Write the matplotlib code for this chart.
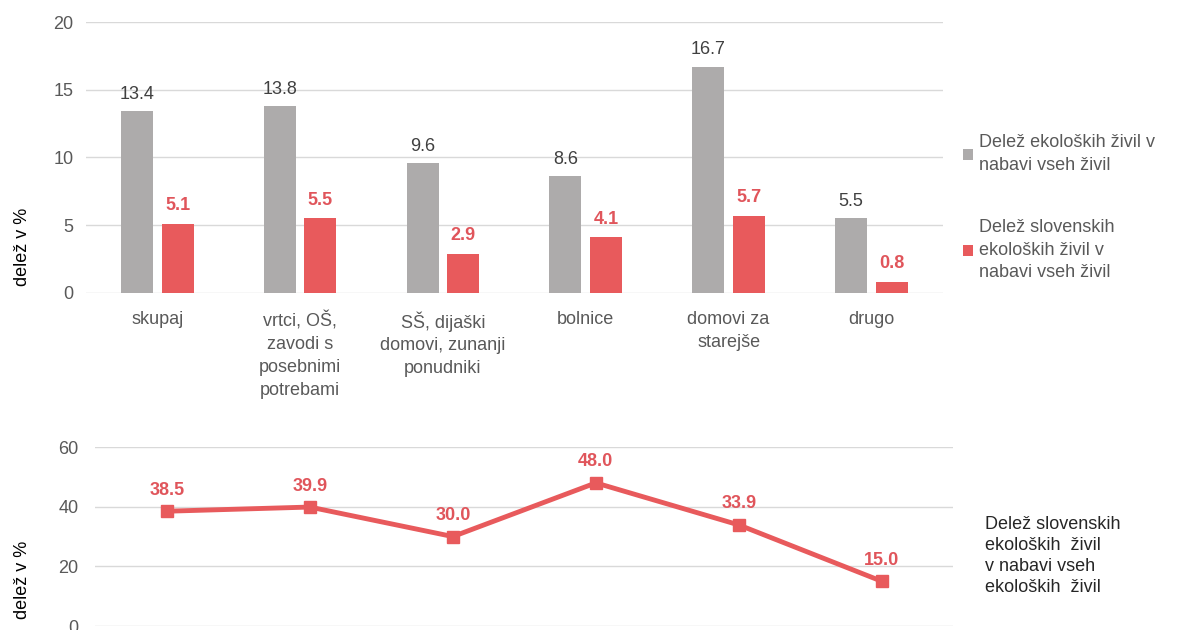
import numpy as np
import matplotlib.pyplot as plt

plt.rcParams['font.family'] = ['Liberation Sans', 'DejaVu Sans']

# data
categories = ["skupaj", "vrtci, OŠ,\nzavodi s\nposebnimi\npotrebami",
              "SŠ, dijaški\ndomovi, zunanji\nponudniki", "bolnice",
              "domovi za\nstarejše", "drugo"]
eko_share = [13.4, 13.8, 9.6, 8.6, 16.7, 5.5]
slo_eko_share = [5.1, 5.5, 2.9, 4.1, 5.7, 0.8]
slo_of_eko = [38.5, 39.9, 30.0, 48.0, 33.9, 15.0]

legend_eko = "Delež ekoloških živil v\nnabavi vseh živil"
legend_slo = "Delež slovenskih\nekoloških živil v\nnabavi vseh živil"
line_label = "Delež slovenskih\nekoloških  živil\nv nabavi vseh\nekoloških  živil"

gray = "#ADABAB"
red = "#E85A5C"
red_txt = "#E0555B"
tick_col = "#595959"
grid_col = "#D9D9D9"

fig = plt.figure(figsize=(11.77, 6.3), dpi=100)

# ---------- top bar chart ----------
ax1 = fig.add_axes([0.073, 0.535, 0.728, 0.430])
x = np.arange(len(categories))
w = 0.224
off = 0.142
ax1.bar(x - off, eko_share, w, color=gray, label=legend_eko, zorder=3)
ax1.bar(x + off, slo_eko_share, w, color=red, label=legend_slo, zorder=3)

for xi, v in zip(x, eko_share):
    ax1.annotate(f"{v:.1f}", (xi - off, v), xytext=(0, 6), textcoords="offset points",
                 ha="center", va="bottom", fontsize=13, color="#404040")
for xi, v in zip(x, slo_eko_share):
    ax1.annotate(f"{v:.1f}", (xi + off, v), xytext=(0, 7), textcoords="offset points",
                 ha="center", va="bottom", fontsize=13, color=red_txt, fontweight="bold")

ax1.set_xlim(-0.5, len(categories) - 0.5)
ax1.set_ylim(0, 20)
ax1.set_yticks([0, 5, 10, 15, 20])
ax1.set_xticks(x)
ax1.set_xticklabels(categories, fontsize=13, color=tick_col, linespacing=1.45)
ax1.tick_params(axis="both", length=0, labelsize=13, labelcolor=tick_col)
ax1.tick_params(axis="x", pad=13)
ax1.tick_params(axis="y", pad=9)
ax1.grid(axis="y", color=grid_col, linewidth=1, zorder=0)
for s in ax1.spines.values():
    s.set_visible(False)
ax1.set_ylabel("delež v %", fontsize=13, color="black")
ax1.yaxis.set_label_coords(-0.064, 0.17)

leg = ax1.legend(loc="upper left", bbox_to_anchor=(1.005, 0.645), frameon=False,
                 fontsize=13, labelcolor=tick_col, handlelength=0.55, handleheight=0.55,
                 handletextpad=0.3, labelspacing=2.5)
for t in leg.get_texts():
    t.set_linespacing(1.42)

# ---------- bottom line chart ----------
ax2 = fig.add_axes([0.081, 0.0063, 0.729, 0.284])
ax2.plot(x, slo_of_eko, color=red, linewidth=3.5, marker="s", markersize=9, zorder=3)
for xi, v in zip(x, slo_of_eko):
    ax2.annotate(f"{v:.1f}", (xi, v), xytext=(0, 9), textcoords="offset points",
                 ha="center", va="bottom", fontsize=13, color=red_txt, fontweight="bold")
ax2.set_xlim(-0.5, len(categories) - 0.5)
ax2.set_ylim(0, 60)
ax2.set_yticks([0, 20, 40, 60])
ax2.set_xticks([])
ax2.tick_params(axis="y", length=0, labelsize=13, labelcolor=tick_col, pad=12)
ax2.grid(axis="y", color=grid_col, linewidth=1, zorder=0)
for s in ax2.spines.values():
    s.set_visible(False)
ax2.set_ylabel("delež v %", fontsize=13, color="black")
ax2.yaxis.set_label_coords(-0.075, 0.26)

fig.text(0.837, 0.117, line_label, fontsize=13, color="#262626", va="center",
         ha="left", linespacing=1.3)

fig.savefig("out.png", dpi=100)
